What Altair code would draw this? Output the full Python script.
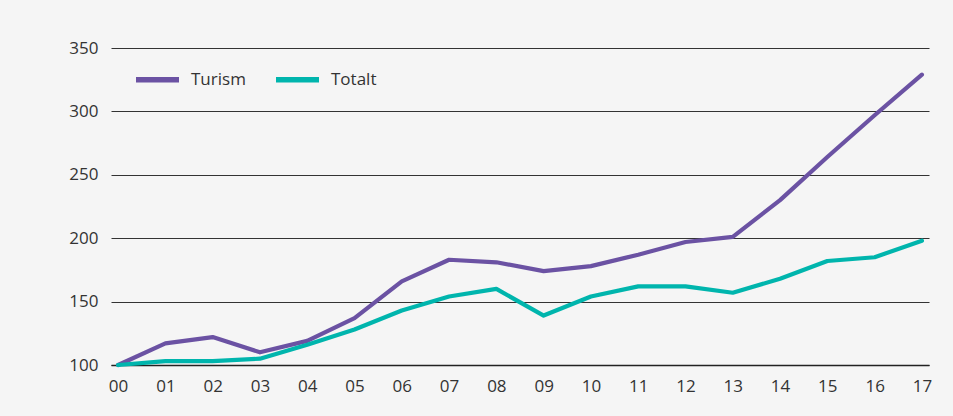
import altair as alt
import pandas as pd

years = ["00", "01", "02", "03", "04", "05", "06", "07", "08", "09",
         "10", "11", "12", "13", "14", "15", "16", "17"]
turism = [100, 117, 122, 110, 119, 137, 166, 183, 181, 174,
          178, 187, 197, 201, 230, 264, 297, 329]
totalt = [100, 103, 103, 105, 116, 128, 143, 154, 160, 139,
          154, 162, 162, 157, 168, 182, 185, 198]
series_names = ["Turism", "Totalt"]
series_colors = ["#6b52a3", "#00b5ad"]
y_ticks = [100, 150, 200, 250, 300, 350]

rows = []
for i, y in enumerate(years):
    rows.append({"year": y, "series": "Turism", "value": turism[i], "ord": 1})
    rows.append({"year": y, "series": "Totalt", "value": totalt[i], "ord": 0})
df = pd.DataFrame(rows)

FONT = "Open Sans"
FS = 17

base = alt.Chart(df)

lines = base.mark_line(strokeWidth=4.2, strokeCap="round", strokeJoin="round").encode(
    x=alt.X("year:O", sort=years,
            scale=alt.Scale(type="point", padding=0.15),
            axis=alt.Axis(title=None, ticks=False, domain=True, domainColor="#222222",
                          domainWidth=1.6, grid=False, labelAngle=0,
                          labelFont=FONT, labelFontSize=FS, labelColor="#333333",
                          labelPadding=13)),
    y=alt.Y("value:Q", scale=alt.Scale(domain=[100, 350], nice=False, zero=False),
            axis=alt.Axis(title=None, values=y_ticks, ticks=False, domain=False,
                          grid=True, gridColor="#333333", gridWidth=1,
                          labelFont=FONT, labelFontSize=FS, labelColor="#333333",
                          labelPadding=13)),
    color=alt.Color("series:N", scale=alt.Scale(domain=series_names, range=series_colors),
                    legend=alt.Legend(title=None, orient="none", direction="horizontal",
                                      legendX=22, legendY=7, symbolType="stroke",
                                      symbolSize=1849, symbolStrokeWidth=5.5,
                                      labelFont=FONT, labelFontSize=FS,
                                      labelColor="#333333", labelOffset=9,
                                      columnPadding=19, padding=0)),
    order=alt.Order("ord:Q"),
    detail="series:N",
)

chart = lines.properties(
    width=818, height=317,
    background="#f5f5f5",
    autosize=alt.AutoSizeParams(type="none"),
    padding={"left": 111, "top": 48, "right": 24, "bottom": 51},
).configure_view(stroke=None)

chart.save("out.html", embed_options={"renderer": "svg", "actions": False})
